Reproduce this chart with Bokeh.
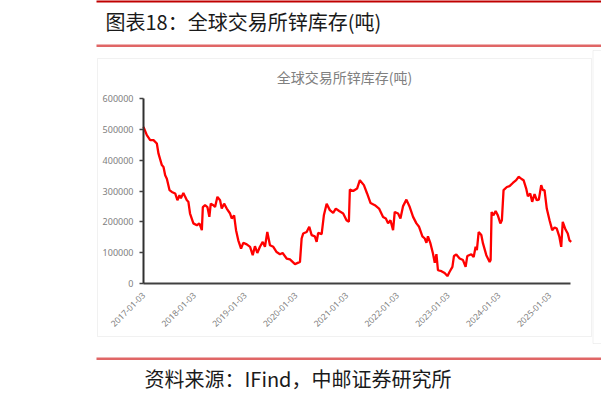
import math
import pandas as pd
from bokeh.plotting import figure
from bokeh.models import Range1d, FixedTicker, Label, BoxAnnotation, ColumnDataSource
from bokeh.embed import file_html
from bokeh.resources import INLINE

# ---------------- data ----------------
dates = [
    "2017-01-03", "2017-01-27", "2017-02-20", "2017-03-16", "2017-04-09", "2017-04-21",
    "2017-05-15", "2017-05-27", "2017-06-08", "2017-06-20", "2017-07-09", "2017-07-26",
    "2017-08-19", "2017-09-04", "2017-09-19", "2017-09-29", "2017-10-17", "2017-10-30",
    "2017-11-11", "2017-11-22", "2017-12-04", "2017-12-28", "2018-01-22", "2018-02-09",
    "2018-02-27", "2018-03-06", "2018-03-22", "2018-04-08", "2018-04-22", "2018-05-02",
    "2018-05-21", "2018-06-02", "2018-06-19", "2018-07-08", "2018-07-20", "2018-08-06",
    "2018-08-25", "2018-09-18", "2018-09-30", "2018-10-17", "2018-10-31", "2018-11-16",
    "2018-12-06", "2018-12-22", "2019-01-16", "2019-02-09", "2019-02-28", "2019-03-16",
    "2019-04-02", "2019-04-21", "2019-05-11", "2019-05-27", "2019-06-13", "2019-07-02",
    "2019-07-26", "2019-08-19", "2019-09-12", "2019-10-01", "2019-10-30", "2019-11-23",
    "2019-12-29", "2020-02-03", "2020-02-15", "2020-02-26", "2020-03-22", "2020-04-10",
    "2020-04-27", "2020-05-20", "2020-06-02", "2020-06-13", "2020-07-08", "2020-07-24",
    "2020-08-13", "2020-09-05", "2020-09-29", "2020-10-18", "2020-11-11", "2020-12-10",
    "2021-01-03", "2021-01-20", "2021-01-27", "2021-02-20", "2021-03-20", "2021-04-09",
    "2021-05-08", "2021-05-31", "2021-06-25", "2021-07-26", "2021-08-25", "2021-09-23",
    "2021-10-13", "2021-10-29", "2021-11-15", "2021-12-04", "2021-12-16", "2022-01-09",
    "2022-01-26", "2022-02-14", "2022-03-10", "2022-04-03", "2022-04-27", "2022-05-21",
    "2022-06-09", "2022-07-03", "2022-07-20", "2022-08-01", "2022-08-12", "2022-08-30",
    "2022-09-17", "2022-09-30", "2022-10-12", "2022-10-23", "2022-11-17", "2022-12-10",
    "2022-12-30", "2023-01-15", "2023-02-04", "2023-02-15", "2023-03-04", "2023-03-28",
    "2023-04-21", "2023-05-10", "2023-05-22", "2023-06-20", "2023-07-07", "2023-07-21",
    "2023-07-30", "2023-08-12", "2023-08-31", "2023-09-12", "2023-10-06", "2023-10-30",
    "2023-11-06", "2023-11-13", "2023-11-27", "2023-12-12", "2023-12-28", "2024-01-15",
    "2024-01-26", "2024-02-07", "2024-03-02", "2024-03-21", "2024-04-14", "2024-05-08",
    "2024-05-25", "2024-06-13", "2024-06-30", "2024-07-19", "2024-07-31", "2024-08-17",
    "2024-08-31", "2024-09-17", "2024-10-03", "2024-10-18", "2024-11-04", "2024-11-16",
    "2024-11-28", "2024-12-14", "2025-01-03", "2025-01-22", "2025-02-08", "2025-02-24",
    "2025-03-15", "2025-03-28", "2025-04-08", "2025-04-28", "2025-05-14", "2025-05-26",
    "2025-06-08",
]

stock = [
    508000, 481000, 465000, 465000, 454000, 421000,
    384000, 378000, 351000, 340000, 303000, 297000,
    292000, 270000, 286000, 276000, 294000, 281000,
    270000, 265000, 227000, 195000, 189000, 195000,
    173000, 248000, 254000, 248000, 216000, 259000,
    254000, 248000, 281000, 270000, 243000, 259000,
    243000, 227000, 211000, 221000, 173000, 140000,
    113000, 132000, 127000, 119000, 92000, 121000,
    99000, 119000, 135000, 119000, 167000, 124000,
    119000, 102000, 95000, 99000, 81000, 78000,
    63000, 70000, 146000, 162000, 167000, 184000,
    157000, 153000, 135000, 164000, 160000, 221000,
    259000, 238000, 229000, 243000, 235000, 227000,
    205000, 200000, 305000, 300000, 308000, 335000,
    319000, 292000, 261000, 254000, 243000, 216000,
    211000, 195000, 205000, 173000, 232000, 227000,
    211000, 251000, 272000, 248000, 216000, 195000,
    184000, 153000, 146000, 132000, 153000, 130000,
    97000, 67000, 95000, 43000, 40000, 34000,
    24000, 38000, 54000, 89000, 94000, 81000,
    76000, 54000, 89000, 95000, 86000, 119000,
    108000, 167000, 157000, 130000, 92000, 70000,
    76000, 232000, 221000, 235000, 221000, 195000,
    205000, 303000, 313000, 316000, 326000, 335000,
    346000, 340000, 335000, 308000, 283000, 292000,
    265000, 290000, 270000, 272000, 319000, 303000,
    303000, 243000, 205000, 173000, 182000, 178000,
    151000, 119000, 200000, 175000, 162000, 140000,
    135000,
]

x_tick_labels = ["2017-01-03", "2018-01-03", "2019-01-03", "2020-01-03", "2021-01-03",
                 "2022-01-03", "2023-01-03", "2024-01-03", "2025-01-03"]
y_ticks = [0, 100000, 200000, 300000, 400000, 500000, 600000]
y_tick_labels = ["0", "100000", "200000", "300000", "400000", "500000", "600000"]

title_text = "图表18：全球交易所锌库存(吨)"
chart_title = "全球交易所锌库存(吨)"
source_text = "资料来源：IFind，中邮证券研究所"

# ---------------- build ----------------
def to_ms(s):
    return pd.Timestamp(s).value // 10**6

src = ColumnDataSource(data=dict(x=[pd.Timestamp(d) for d in dates], y=stock))
x_tick_ms = [to_ms(s) for s in x_tick_labels]

CANVAS_W, CANVAS_H = 601, 395
# plot area placement in canvas pixels
F_L, F_R, F_T, F_B = 143, 571, 98, 283
X0, X1 = to_ms("2017-01-03"), to_ms("2025-06-10")
Y0, Y1 = 0, 600000

def dx(px):
    return X0 + (px - F_L) * (X1 - X0) / (F_R - F_L)

def dy(py):
    return Y0 + (F_B - py) * (Y1 - Y0) / (F_B - F_T)

# frame spans the whole canvas; ranges extended so the plot area lands where it should
p = figure(
    width=CANVAS_W, height=CANVAS_H,
    x_axis_type="datetime",
    x_range=Range1d(dx(0), dx(CANVAS_W)),
    y_range=Range1d(dy(CANVAS_H), dy(0)),
    output_backend="svg", toolbar_location=None, title=None,
    min_border=0,
)
p.background_fill_color = "white"
p.border_fill_color = "white"
p.outline_line_color = None
p.grid.visible = False

p.line("x", "y", source=src, line_color="#ff0000", line_width=2.3)

# axes, pinned to the plot-area edges
xa = p.xaxis[0]
xa.fixed_location = Y0
xa.bounds = (X0, dx(570))
xa.ticker = FixedTicker(ticks=x_tick_ms)
xa.major_label_overrides = {t: l for t, l in zip(x_tick_ms, x_tick_labels)}
xa.major_label_orientation = math.pi / 4
xa.major_tick_line_color = None
xa.minor_tick_line_color = None
xa.axis_line_color = "#404040"
xa.axis_line_width = 2
xa.major_label_text_color = "#808080"
xa.major_label_text_font = "Noto Sans"
xa.major_label_text_font_size = "8.5px"
xa.major_label_standoff = 4

ya = p.yaxis[0]
ya.fixed_location = X0
ya.bounds = (Y0, Y1)
ya.ticker = FixedTicker(ticks=y_ticks)
ya.major_label_overrides = {t: l for t, l in zip(y_ticks, y_tick_labels)}
ya.minor_tick_line_color = None
ya.major_tick_in = 0
ya.major_tick_out = 4
ya.major_tick_line_color = "#404040"
ya.major_tick_line_width = 1.5
ya.axis_line_color = "#303030"
ya.axis_line_width = 2
ya.major_label_text_color = "#808080"
ya.major_label_text_font = "Noto Sans"
ya.major_label_text_font_size = "9px"
ya.major_label_standoff = 6

# ---- decorations (canvas pixels -> data coordinates) ----
def box(left, right, top, bottom, **kw):
    p.add_layout(BoxAnnotation(left=dx(left), right=dx(right), top=dy(top), bottom=dy(bottom),
                               level="annotation", **kw))

# chart frame
box(97, 591, 58, 336, fill_alpha=0, line_color="#cfcfcf", line_width=1)
# adjacent (cut-off) chart frame
box(592.5, 640, 50, 343, fill_alpha=0, line_color="#cfcfcf", line_width=1)
# red rules
box(96, 640, -2, 2, fill_color="#c00000", fill_alpha=1, line_alpha=0)
box(96, 640, 44, 46.5, fill_color="#e06666", fill_alpha=1, line_alpha=0)
box(96, 640, 357, 359.5, fill_color="#e06666", fill_alpha=1, line_alpha=0)

def label(px, py, text, **kw):
    p.add_layout(Label(x=dx(px), y=dy(py), text=text, text_font="Noto Sans CJK SC",
                       text_baseline="middle", **kw))

label(105, 21, title_text, text_font_size="20px", text_color="#1a1a1a", text_align="left")
label(344, 76, chart_title, text_font_size="14px", text_color="#808080", text_align="center")
label(144, 378, source_text, text_font_size="20px", text_color="#1a1a1a", text_align="left")

open("out.html", "w").write(file_html(p, INLINE))
